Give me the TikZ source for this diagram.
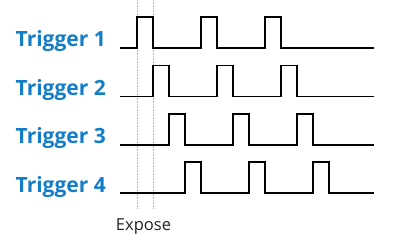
\documentclass[tikz,border=0pt]{standalone}
\usepackage{fontspec}
\setmainfont{Open Sans}
\usepackage{tikz}
\usetikzlibrary{positioning,calc}
\definecolor{trigblue}{RGB}{20,125,200}
\definecolor{darktext}{RGB}{35,35,35}

\begin{document}
\begin{tikzpicture}[
      x=1pt,y=-1pt,
      trig/.style={font=\fontsize{21}{24}\selectfont\bfseries,text=trigblue,anchor=base east,inner sep=0pt},
      wave/.style={line width=1.6pt,black,line join=miter},
      guide/.style={densely dotted,gray!60,line width=0.6pt}]
      \useasboundingbox (0,0) rectangle (394,246);
      % Expose window
      \draw[guide] (137,0) -- (137,209);
      \draw[guide] (153,0) -- (153,209);
      \node[font=\fontsize{16.5}{20}\selectfont,text=darktext,anchor=base,inner sep=0pt] (expose) at (143.5,230) {Expose};

      % Trigger rows
      \foreach \i in {0,1,2,3} {
        \pgfmathsetmacro{\yb}{48+48.4*\i}
        \pgfmathsetmacro{\yh}{\yb-31}
        \pgfmathtruncatemacro{\n}{\i+1}
        \node[trig] (trig\n) at (106,\yb-1) {Trigger \n};
        \draw[wave] (120,\yb)
          \foreach \k in {0,1,2} {
            -- ({137+16*\i+64*\k},\yb) -- ({137+16*\i+64*\k},\yh)
            -- ({153+16*\i+64*\k},\yh) -- ({153+16*\i+64*\k},\yb)
          } -- (374,\yb);
      }
    \end{tikzpicture}
\end{document}
